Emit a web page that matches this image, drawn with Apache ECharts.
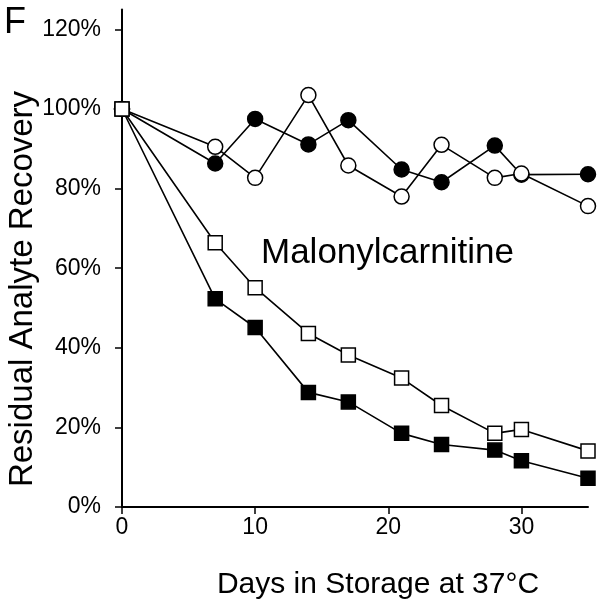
<!DOCTYPE html>
<html>
<head>
<meta charset="utf-8">
<script src="https://cdn.jsdelivr.net/npm/echarts@6/dist/echarts.min.js"></script>
<style>html,body{margin:0;padding:0;background:#fff;}#c{width:602px;height:607px;}</style>
</head>
<body>
<div id="c"></div>
<script>
var days = [0, 7, 10, 14, 17, 21, 24, 28, 30, 35];
var filledCircles = [100, 86.3, 97.5, 91.1, 97.2, 84.8, 81.6, 90.8, 83.5, 83.6];
var openCircles = [100, 90.5, 82.7, 103.5, 85.8, 78.0, 91.0, 82.7, 83.8, 75.6];
var filledSquares = [100, 52.3, 45.1, 28.8, 26.4, 18.5, 15.7, 14.3, 11.6, 7.2];
var openSquares = [100, 66.4, 55.1, 43.6, 38.2, 32.4, 25.5, 18.5, 19.5, 14.1];
var yTicks = [0, 20, 40, 60, 80, 100, 120];
var xTicks = [0, 10, 20, 30];
var panelLabel = 'F';
var analyteLabel = 'Malonylcarnitine';
var xTitle = 'Days in Storage at 37°C';
var yTitle = 'Residual Analyte Recovery';

function pairs(vals) { return days.map(function (d, i) { return [d, vals[i]]; }); }
var FONT = '"Liberation Sans", Arial, sans-serif';

function mk(name, vals, symbol, filled) {
  return {
    name: name, type: 'line', data: pairs(vals), symbol: symbol, symbolSize: symbol === 'circle' ? 15 : 14,
    showAllSymbol: true,
    lineStyle: { color: '#000', width: 1.6 },
    itemStyle: { color: filled ? '#000' : '#fff', borderColor: '#000', borderWidth: 1.5 },
    emphasis: { disabled: true }
  };
}

var chart = echarts.init(document.getElementById('c'), null, { renderer: 'canvas' });
chart.setOption({
  animation: false,
  backgroundColor: '#fff',
  grid: { left: 122, right: 14, top: 9.5, bottom: 100 },
  xAxis: {
    type: 'value', min: 0, max: 35, interval: 10,
    axisLine: { lineStyle: { color: '#000', width: 2 } },
    axisTick: { show: true, length: 7, lineStyle: { color: '#000', width: 1.5 }, customValues: xTicks },
    axisLabel: { color: '#000', fontSize: 23, fontFamily: FONT, margin: 9, customValues: xTicks },
    splitLine: { show: false }
  },
  yAxis: {
    type: 'value', min: 0, max: 125,
    axisLine: { show: true, lineStyle: { color: '#000', width: 2 } },
    axisTick: { show: true, length: 7, lineStyle: { color: '#000', width: 1.5 }, customValues: yTicks },
    axisLabel: { color: '#000', fontSize: 23, fontFamily: FONT, margin: 21, customValues: yTicks, formatter: '{value}%' },
    splitLine: { show: false }
  },
  series: [
    mk('filled circles', filledCircles, 'circle', true),
    mk('open circles', openCircles, 'circle', false),
    mk('filled squares', filledSquares, 'rect', true),
    mk('open squares', openSquares, 'rect', false)
  ],
  graphic: [
    { type: 'text', x: 4, y: 5, style: { text: panelLabel, font: '36px ' + FONT, fill: '#000' } },
    { type: 'text', x: 261, y: 253, style: { text: analyteLabel, font: '35px ' + FONT, fill: '#000', textVerticalAlign: 'middle' } },
    { type: 'text', x: 378, y: 585, style: { text: xTitle, font: '30px ' + FONT, fill: '#000', textAlign: 'center', textVerticalAlign: 'middle' } },
    { type: 'text', x: 23, y: 289, rotation: Math.PI / 2, style: { text: yTitle, font: '33px ' + FONT, fill: '#000', textAlign: 'center', textVerticalAlign: 'middle' } }
  ]
});
</script>
</body>
</html>
